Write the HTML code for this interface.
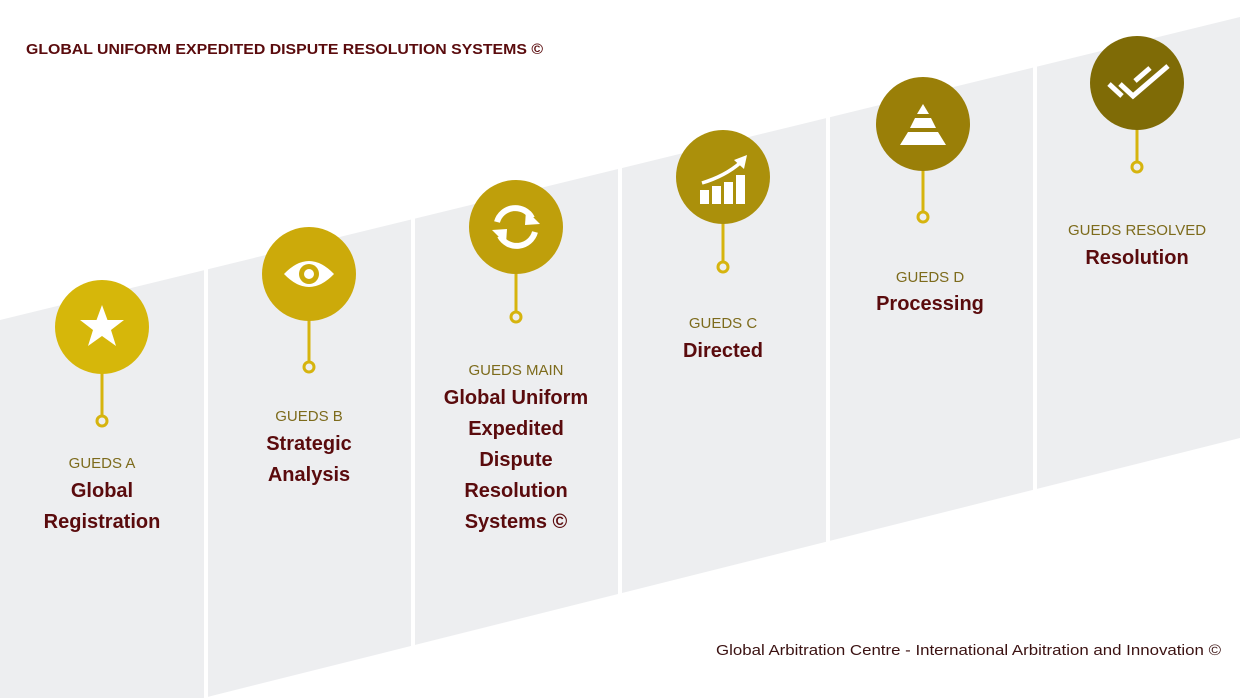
<!DOCTYPE html>
<html><head><meta charset="utf-8"><style>
html,body{margin:0;padding:0;background:#fff;width:1240px;height:698px;overflow:hidden;}
svg{display:block;}
text{font-family:"Liberation Sans",sans-serif;}
.s{font-size:15px;fill:#7d6b1c;text-anchor:middle;}
.t{font-size:20px;font-weight:bold;fill:#5a0b0d;text-anchor:middle;}
</style></head><body>
<svg width="1240" height="698" viewBox="0 0 1240 698" xmlns="http://www.w3.org/2000/svg">
<rect width="1240" height="698" fill="#fff"/>
<polygon points="0,320 1240,17 1240,438 0,749" fill="#edeef0"/>
<g stroke="#fff" stroke-width="4">
<line x1="206" y1="0" x2="206" y2="698"/>
<line x1="413" y1="0" x2="413" y2="698"/>
<line x1="620" y1="0" x2="620" y2="698"/>
<line x1="828" y1="0" x2="828" y2="698"/>
<line x1="1035" y1="0" x2="1035" y2="698"/>
</g>
<text x="26" y="54" textLength="517" lengthAdjust="spacingAndGlyphs" style="font-size:14.5px;font-weight:bold;fill:#5a0b0d">GLOBAL UNIFORM EXPEDITED DISPUTE RESOLUTION SYSTEMS ©</text>
<text x="716" y="655" textLength="505" lengthAdjust="spacingAndGlyphs" style="font-size:15px;fill:#3b1212">Global Arbitration Centre - International Arbitration and Innovation ©</text>

<g stroke="#d6b40e" stroke-width="3" fill="none">
<line x1="102" y1="372" x2="102" y2="416"/><circle cx="102" cy="421" r="5"/>
<line x1="309" y1="320" x2="309" y2="362"/><circle cx="309" cy="367" r="5"/>
<line x1="516" y1="272" x2="516" y2="312"/><circle cx="516" cy="317" r="5"/>
<line x1="723" y1="222" x2="723" y2="262"/><circle cx="723" cy="267" r="5"/>
<line x1="923" y1="170" x2="923" y2="212"/><circle cx="923" cy="217" r="5"/>
<line x1="1137" y1="128" x2="1137" y2="162"/><circle cx="1137" cy="167" r="5"/>
</g>

<circle cx="102" cy="327" r="47" fill="#d6b70a"/>
<circle cx="309" cy="274" r="47" fill="#ccaa0a"/>
<circle cx="516" cy="227" r="47" fill="#bf9f0b"/>
<circle cx="723" cy="177" r="47" fill="#ab900b"/>
<circle cx="923" cy="124" r="47" fill="#9a7f08"/>
<circle cx="1137" cy="83" r="47" fill="#7f6b06"/>

<polygon fill="#fff" points="102,305 107.5,320 124,320 111,330 116,346 102,336 88,346 93,330 80,320 96.5,320"/>
<path d="M284,274 Q309,248 334,274 Q309,300 284,274Z" fill="#fff"/>
<circle cx="309" cy="274" r="10" fill="#ccaa0a"/>
<circle cx="309" cy="274" r="5" fill="#fff"/>
<g fill="none" stroke="#fff" stroke-width="6">
<path d="M497,222 A19,19 0 0 1 532,218"/>
<path d="M535,232 A19,19 0 0 1 500,236"/>
</g>
<polygon fill="#fff" points="526,210 540,224 525,225"/>
<polygon fill="#fff" points="506,244 492,230 507,229"/>
<g fill="#fff">
<rect x="700" y="190" width="9" height="14"/>
<rect x="712" y="186" width="9" height="18"/>
<rect x="724" y="182" width="9" height="22"/>
<rect x="736" y="175" width="9" height="29"/>
</g>
<path d="M702,183 Q725,176 740,163" fill="none" stroke="#fff" stroke-width="3.5"/>
<polygon fill="#fff" points="747,155 744,169 734,160"/>
<g fill="#fff">
<polygon points="923,104 929,114 917,114"/>
<polygon points="915,118 931,118 936,128 910,128"/>
<polygon points="908,132 938,132 946,145 900,145"/>
</g>
<g fill="none" stroke="#fff" stroke-width="5">
<polyline points="1109,84 1122,96"/>
<polyline points="1120,84 1133,96 1168,66"/>
<polyline points="1135,81 1150,68"/>
</g>

<text class="s" x="102" y="468">GUEDS A</text>
<text class="t" x="102" y="497">Global</text>
<text class="t" x="102" y="528">Registration</text>

<text class="s" x="309" y="421">GUEDS B</text>
<text class="t" x="309" y="450">Strategic</text>
<text class="t" x="309" y="481">Analysis</text>

<text class="s" x="516" y="375">GUEDS MAIN</text>
<text class="t" x="516" y="404">Global Uniform</text>
<text class="t" x="516" y="435">Expedited</text>
<text class="t" x="516" y="466">Dispute</text>
<text class="t" x="516" y="497">Resolution</text>
<text class="t" x="516" y="528">Systems ©</text>

<text class="s" x="723" y="328">GUEDS C</text>
<text class="t" x="723" y="357">Directed</text>

<text class="s" x="930" y="282">GUEDS D</text>
<text class="t" x="930" y="310">Processing</text>

<text class="s" x="1137" y="235">GUEDS RESOLVED</text>
<text class="t" x="1137" y="264">Resolution</text>
</svg>
</body></html>
